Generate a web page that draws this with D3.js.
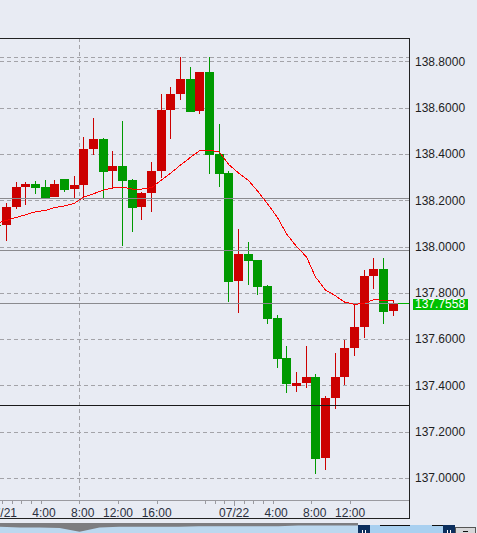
<!DOCTYPE html>
<html>
<head>
<meta charset="utf-8">
<script src="https://cdn.jsdelivr.net/npm/d3@7/dist/d3.min.js"></script>
<style>
  html, body { margin: 0; padding: 0; background: #e8ebf3; }
  svg { display: block; }
  text { font-family: "Liberation Sans", Arial, sans-serif; font-size: 12px; }
</style>
</head>
<body>
<svg id="chart" width="477" height="533"></svg>
<script>
// ---------------- DATA ----------------
const times = [
  "07/20 23:00",
  "07/21 00:00","07/21 01:00","07/21 02:00","07/21 03:00","07/21 04:00","07/21 05:00",
  "07/21 06:00","07/21 07:00","07/21 08:00","07/21 09:00","07/21 10:00","07/21 11:00",
  "07/21 12:00","07/21 13:00","07/21 14:00","07/21 15:00","07/21 16:00","07/21 17:00",
  "07/21 18:00","07/21 19:00","07/21 20:00","07/21 21:00","07/21 22:00","07/21 23:00",
  "07/22 00:00","07/22 01:00","07/22 02:00","07/22 03:00","07/22 04:00","07/22 05:00",
  "07/22 06:00","07/22 07:00","07/22 08:00","07/22 09:00","07/22 10:00","07/22 11:00",
  "07/22 12:00","07/22 13:00","07/22 14:00","07/22 15:00","07/22 16:00"
];
const opens = [
  138.095,
  138.093,138.171,138.257,138.270,138.257,138.214,
  138.292,138.248,138.266,138.421,138.464,138.326,
  138.348,138.287,138.171,138.231,138.326,138.589,
  138.659,138.724,138.585,138.754,138.400,138.317,
  137.851,137.968,137.942,137.829,137.691,137.518,
  137.398,137.410,137.436,137.087,137.345,137.436,
  137.560,137.652,137.873,137.903,137.721
];
const highs = [
  138.095,
  138.188,138.279,138.279,138.283,138.287,138.287,
  138.292,138.305,138.473,138.555,138.470,138.413,
  138.542,138.290,138.235,138.365,138.659,138.689,
  138.819,138.775,138.754,138.819,138.529,138.325,
  138.076,138.019,137.942,137.833,137.704,137.570,
  137.458,137.570,137.449,137.354,137.540,137.596,
  137.756,137.899,137.950,137.950,137.769
];
const lows = [
  138.090,
  138.024,138.162,138.180,138.227,138.209,138.212,
  138.235,138.209,138.201,138.395,138.209,138.248,
  138.002,138.063,138.114,138.149,138.296,138.464,
  138.633,138.581,138.572,138.313,138.257,137.760,
  137.713,137.834,137.791,137.665,137.475,137.367,
  137.372,137.389,137.017,137.035,137.298,137.402,
  137.527,137.605,137.816,137.665,137.700
];
const closes = [
  138.090,
  138.171,138.257,138.270,138.253,138.209,138.270,
  138.244,138.266,138.421,138.464,138.322,138.348,
  138.283,138.166,138.231,138.326,138.589,138.659,
  138.724,138.581,138.754,138.395,138.313,137.847,
  137.968,137.937,137.825,137.687,137.514,137.406,
  137.410,137.436,137.082,137.345,137.436,137.560,
  137.652,137.873,137.903,137.717,137.7558
];
const movingAvg = [
  138.100,
  138.113,138.126,138.137,138.150,138.156,138.168,
  138.175,138.187,138.213,138.228,138.243,138.253,
  138.257,138.248,138.248,138.254,138.287,138.316,
  138.352,138.385,138.414,138.416,138.408,138.355,
  138.318,138.285,138.240,138.185,138.125,138.055,
  138.000,137.955,137.868,137.812,137.787,137.760,
  137.750,137.755,137.770,137.768,137.765
];
const yTickValues = [137.0, 137.2, 137.4, 137.6, 137.8, 138.0, 138.2, 138.4, 138.6, 138.8];
const xLabelTimes = ["07/21 00:00","07/21 04:00","07/21 08:00","07/21 12:00","07/21 16:00",
                     "07/22 00:00","07/22 04:00","07/22 08:00","07/22 12:00"];
const xLabels = ["07/21","4:00","8:00","12:00","16:00","07/22","4:00","8:00","12:00"];
const xMinorTickTimes = ["07/21 00:00","07/21 01:00","07/21 02:00","07/21 03:00","07/21 04:00",
  "07/21 08:00","07/21 12:00","07/21 16:00","07/21 21:00","07/21 22:00","07/21 23:00",
  "07/22 00:00","07/22 01:00","07/22 02:00","07/22 03:00","07/22 04:00","07/22 08:00","07/22 12:00"];
const xMajorTickTimes = ["07/22 00:00"];
const xGridTimes = ["07/21 08:00"];
const dashedLevels = [138.817];
const grayLevels = [138.208, 137.985];
const blackLevels = [137.315];
const currentPrice = 137.7558;
const navigatorHistory = [5, 4.5, 4.5, 4, 1, 4.5, 5, 5, 5, 5, 5.5, 5.5, 5.5, 5.5, 5.5, 6, 6, 6, 6];

// ---------------- SCALES ----------------
const parse = d3.utcParse("%m/%d %H:%M");
const candles = times.map((t, i) => ({
  t: parse(t), o: opens[i], h: highs[i], l: lows[i], c: closes[i], ma: movingAvg[i]
}));

const plotRight = 409, plotTop = 38, axisY = 500, frameBottom = 518;
const x = d3.scaleUtc()
  .domain([parse("07/21 00:00"), parse("07/22 12:00")])
  .range([2.5, 2.5 + 36 * 9.67]);
const y = d3.scaleLinear().domain([137.0, 138.8]).range([478.0, 61.3]);
const px = v => Math.floor(x(v));
const py = v => Math.round(y(v)) + 0.5;

const svg = d3.select("#chart");
svg.append("rect").attr("width", 477).attr("height", 533).attr("fill", "#e8ebf3");

svg.append("defs").append("clipPath").attr("id", "plotClip")
  .append("rect").attr("x", 0).attr("y", plotTop).attr("width", plotRight).attr("height", axisY - plotTop);

const plot = svg.append("g").attr("clip-path", "url(#plotClip)").attr("shape-rendering", "crispEdges");

// grid
plot.selectAll("line.hgrid").data(yTickValues.concat(dashedLevels)).join("line")
  .attr("x1", 0).attr("x2", plotRight).attr("y1", d => py(d)).attr("y2", d => py(d))
  .attr("stroke", "#a3a3a8").attr("stroke-dasharray", "4,3");
plot.selectAll("line.vgrid").data(xGridTimes).join("line")
  .attr("x1", d => px(parse(d)) + 0.5).attr("x2", d => px(parse(d)) + 0.5)
  .attr("y1", plotTop).attr("y2", axisY)
  .attr("stroke", "#a3a3a8").attr("stroke-dasharray", "4,3");

// candles
const up = "#cc0000", down = "#009900";
const cg = plot.selectAll("g.candle").data(candles).join("g");
cg.append("line")
  .attr("x1", d => px(d.t) + 4.5).attr("x2", d => px(d.t) + 4.5)
  .attr("y1", d => Math.round(y(d.h))).attr("y2", d => Math.round(y(d.l)))
  .attr("stroke", d => d.c >= d.o ? up : down);
cg.append("rect")
  .attr("x", d => px(d.t)).attr("width", 9)
  .attr("y", d => Math.round(y(Math.max(d.o, d.c))))
  .attr("height", d => Math.max(1, Math.round(y(Math.min(d.o, d.c))) - Math.round(y(Math.max(d.o, d.c)))))
  .attr("fill", d => d.c >= d.o ? up : down);

// level lines
plot.selectAll("line.gray").data(grayLevels).join("line")
  .attr("x1", 0).attr("x2", plotRight).attr("y1", d => py(d)).attr("y2", d => py(d))
  .attr("stroke", "#8a8a8e");
plot.selectAll("line.black").data(blackLevels).join("line")
  .attr("x1", 0).attr("x2", plotRight).attr("y1", d => py(d)).attr("y2", d => py(d))
  .attr("stroke", "#1a1a1a");
const last = candles[candles.length - 1];
plot.append("line").attr("x1", 0).attr("x2", plotRight)
  .attr("y1", py(currentPrice)).attr("y2", py(currentPrice)).attr("stroke", "#8a8a8e");
plot.append("line").attr("x1", px(last.t) + 9).attr("x2", plotRight)
  .attr("y1", py(currentPrice)).attr("y2", py(currentPrice)).attr("stroke", "#00b400");

// moving average
plot.append("path").datum(candles)
  .attr("d", d3.line().x(d => px(d.t) + 4.5).y(d => y(d.ma)))
  .attr("fill", "none").attr("stroke", "#ff0000").attr("stroke-width", 1);

// frame & axis
const fr = svg.append("g").attr("shape-rendering", "crispEdges");
fr.append("line").attr("x1", 0).attr("x2", plotRight + 0.5).attr("y1", plotTop + 0.5).attr("y2", plotTop + 0.5).attr("stroke", "#222");
fr.append("line").attr("x1", plotRight + 0.5).attr("x2", plotRight + 0.5).attr("y1", plotTop).attr("y2", frameBottom + 1).attr("stroke", "#222");
fr.append("line").attr("x1", 0).attr("x2", plotRight + 0.5).attr("y1", frameBottom + 0.5).attr("y2", frameBottom + 0.5).attr("stroke", "#222");
fr.append("line").attr("x1", 0).attr("x2", plotRight).attr("y1", axisY + 0.5).attr("y2", axisY + 0.5).attr("stroke", "#9a9aa0");
fr.selectAll("line.tick").data(xMinorTickTimes).join("line")
  .attr("x1", d => px(parse(d)) + 0.5).attr("x2", d => px(parse(d)) + 0.5)
  .attr("y1", axisY).attr("y2", d => axisY + (xMajorTickTimes.includes(d) ? 6 : 4))
  .attr("stroke", "#9a9aa0");
fr.selectAll("line.ytick").data(yTickValues).join("line")
  .attr("x1", plotRight - 4).attr("x2", plotRight).attr("y1", d => py(d)).attr("y2", d => py(d))
  .attr("stroke", "#a3a3a8");

// x labels
svg.selectAll("text.xl").data(xLabelTimes).join("text")
  .attr("x", d => x(parse(d)) + 14.5).attr("y", 516.5)
  .attr("text-anchor", "end").attr("fill", "#2b3040")
  .text((d, i) => xLabels[i]);

// y labels
svg.selectAll("text.yl").data(yTickValues).join("text")
  .attr("x", 415).attr("y", d => y(d) + 4.3)
  .attr("fill", "#1e1e1e")
  .text(d => d3.format(".4f")(d));

// current price label
svg.append("rect").attr("x", 413).attr("y", Math.round(y(currentPrice)) - 4.5).attr("width", 55).attr("height", 11)
  .attr("fill", "#00c000").attr("shape-rendering", "crispEdges");
svg.append("text").attr("x", 415).attr("y", y(currentPrice) + 4.6).attr("fill", "#ffffff")
  .text(d3.format(".4f")(currentPrice));

// navigator
const nav = svg.append("g").attr("shape-rendering", "crispEdges");
const navTop = 523, navBottom = 533, navSelX = 358;
nav.append("rect").attr("x", 0).attr("y", navTop).attr("width", navSelX).attr("height", navBottom - navTop).attr("fill", "#7d7d80");
const nx = d3.scaleLinear().domain([0, navigatorHistory.length - 1]).range([0, navSelX]);
const ny = d3.scaleLinear().domain([0, 8]).range([navBottom, navTop]);
nav.append("path").datum(navigatorHistory)
  .attr("d", d3.area().x((d, i) => nx(i)).y0(navBottom).y1(d => ny(d)))
  .attr("fill", "#bcd8ef").attr("shape-rendering", "auto");
nav.append("rect").attr("x", navSelX).attr("y", navTop + 2).attr("width", 97).attr("height", navBottom - navTop - 2).attr("fill", "#a9d0f0");
nav.append("rect").attr("x", 380).attr("y", navTop + 2).attr("width", 30).attr("height", 1).attr("fill", "#111");
nav.append("rect").attr("x", 432).attr("y", navTop + 2).attr("width", 11).attr("height", 1).attr("fill", "#111");
[358, 443].forEach(hx => {
  nav.append("rect").attr("x", hx).attr("y", navTop + 2).attr("width", 12).attr("height", navBottom - navTop - 2).attr("fill", "#0c2f5e");
  nav.append("rect").attr("x", hx + 4).attr("y", navTop + 7).attr("width", 1).attr("height", 3).attr("fill", "#fff");
  nav.append("rect").attr("x", hx + 7).attr("y", navTop + 7).attr("width", 1).attr("height", 3).attr("fill", "#fff");
});
nav.append("rect").attr("x", 455.5).attr("y", navTop + 4.5).attr("width", 20).attr("height", 8).attr("fill", "#d6d6d8").attr("stroke", "#555");
nav.append("rect").attr("x", 463).attr("y", navTop + 8).attr("width", 5).attr("height", 1).attr("fill", "#111");
</script>
</body>
</html>
